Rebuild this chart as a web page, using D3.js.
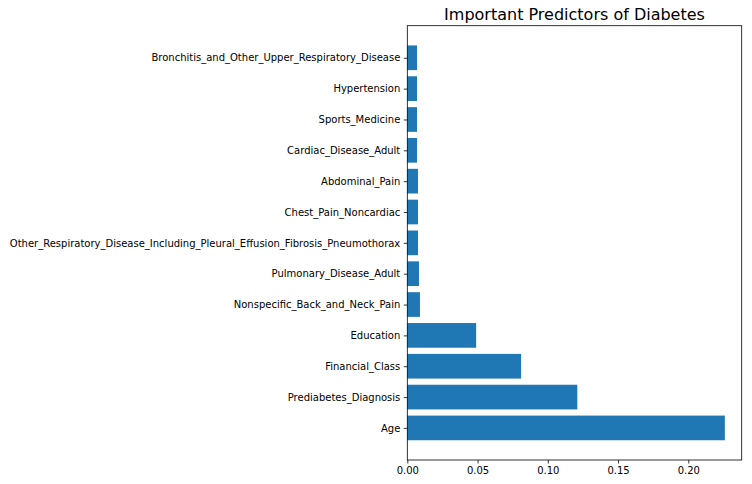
<!DOCTYPE html>
<html lang="en">
<head>
  <meta charset="UTF-8">
  <title>Important Predictors of Diabetes</title>
  <script src="https://d3js.org/d3.v7.min.js"></script>
  <style>
    body { margin: 0; background: #fff; }
    svg text { font-family: "DejaVu Sans", sans-serif; fill: #000; }
  </style>
</head>
<body>
  <svg id="chart" width="752" height="484"></svg>

  <script>
    // bottom to top, as matplotlib barh draws them
    const predictors = [
      "Age", "Prediabetes_Diagnosis", "Financial_Class", "Education",
      "Nonspecific_Back_and_Neck_Pain", "Pulmonary_Disease_Adult",
      "Other_Respiratory_Disease_Including_Pleural_Effusion_Fibrosis_Pneumothorax",
      "Chest_Pain_Noncardiac", "Abdominal_Pain", "Cardiac_Disease_Adult",
      "Sports_Medicine", "Hypertension", "Bronchitis_and_Other_Upper_Respiratory_Disease"
    ];
    const importance = [
      0.226, 0.121, 0.081, 0.049, 0.009, 0.0083, 0.0076,
      0.0076, 0.0076, 0.0069, 0.0069, 0.0069, 0.0069
    ];
    const xTicks = [0, 0.05, 0.10, 0.15, 0.20];

    const plotL = 407.3, plotR = 741.7, plotT = 25.7, plotB = 460;
    const svg = d3.select("#chart");

    const x = d3.scaleLinear().domain([0, 0.238]).range([plotL, plotR]);
    // bar height 0.8, margins like matplotlib
    const y = d3.scaleLinear().domain([-1.04, predictors.length - 1 + 1.04]).range([plotB, plotT]);
    const bh = y(0) - y(0.8);

    svg.append("g").selectAll("rect")
      .data(importance)
      .join("rect")
      .attr("x", x(0))
      .attr("y", (d, i) => y(i) - bh / 2)
      .attr("width", d => x(d) - x(0))
      .attr("height", bh)
      .attr("fill", "#1f77b4");

    const xAxis = d3.axisBottom(x).tickValues(xTicks).tickFormat(d3.format(".2f")).tickSizeOuter(0).tickSize(3.5).tickPadding(3.5);
    const gx = svg.append("g").attr("transform", `translate(0,${plotB})`).call(xAxis);
    gx.select(".domain").remove();
    gx.selectAll("text").attr("font-size", 10).attr("font-family", "DejaVu Sans");
    gx.selectAll("line").attr("stroke", "#000").attr("stroke-width", 0.8);

    const yAxis = d3.axisLeft(y).tickValues(d3.range(predictors.length)).tickFormat(i => predictors[i]).tickSizeOuter(0).tickSize(3.5).tickPadding(3.5);
    const gy = svg.append("g").attr("transform", `translate(${plotL},0)`).call(yAxis);
    gy.select(".domain").remove();
    gy.selectAll("text").attr("font-size", 10).attr("font-family", "DejaVu Sans");
    gy.selectAll("line").attr("stroke", "#000").attr("stroke-width", 0.8);

    // frame
    svg.append("rect")
      .attr("x", plotL).attr("y", plotT)
      .attr("width", plotR - plotL).attr("height", plotB - plotT)
      .attr("fill", "none").attr("stroke", "#000").attr("stroke-width", 0.8);

    svg.append("text")
      .attr("x", (plotL + plotR) / 2).attr("y", 20)
      .attr("text-anchor", "middle")
      .attr("font-size", 16)
      .text("Important Predictors of Diabetes");
  </script>
</body>
</html>
